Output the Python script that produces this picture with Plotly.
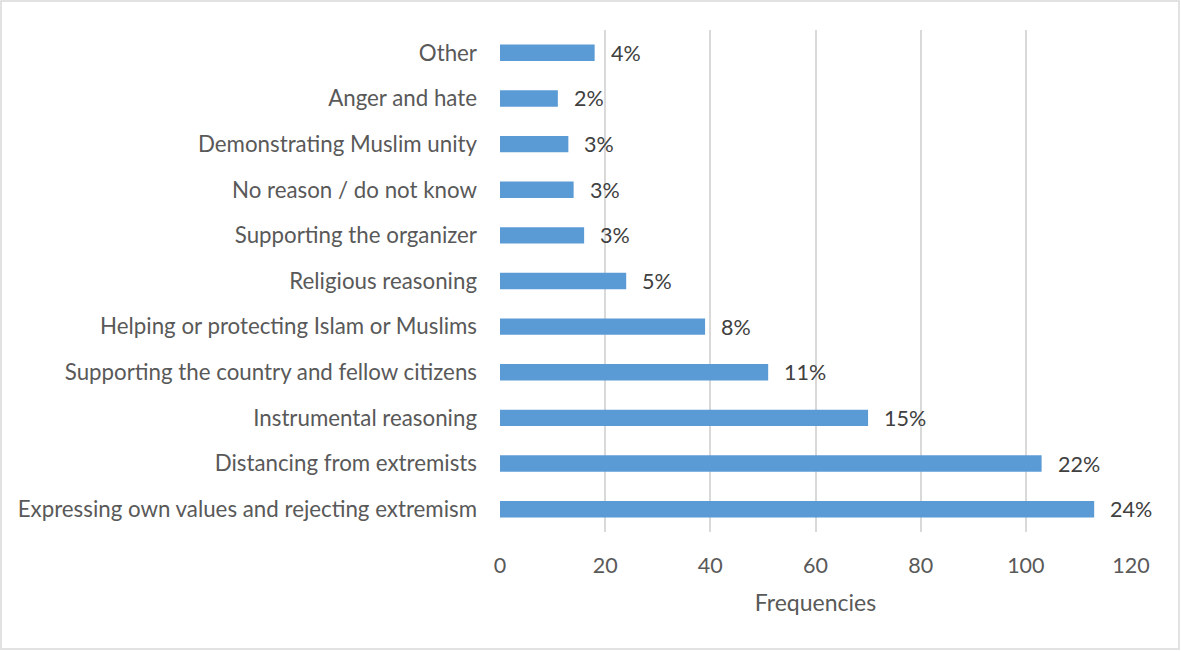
import plotly.graph_objects as go

categories = [
    "Expressing own values and rejecting extremism",
    "Distancing from extremists",
    "Instrumental reasoning",
    "Supporting the country and fellow citizens",
    "Helping or protecting Islam or Muslims",
    "Religious reasoning",
    "Supporting the organizer",
    "No reason / do not know",
    "Demonstrating Muslim unity",
    "Anger and hate",
    "Other",
]
frequencies = [113, 103, 70, 51, 39, 24, 16, 14, 13, 11, 18]
pct_labels = ["24%", "22%", "15%", "11%", "8%", "5%", "3%", "3%", "3%", "2%", "4%"]
x_ticks = [0, 20, 40, 60, 80, 100, 120]

W, H = 1181, 651
L, R, T, B = 500, 50, 30, 119
pw, ph = W - L - R, H - T - B

FONT = "Lato"
FS = 21.5

fig = go.Figure(go.Bar(
    y=categories, x=frequencies, orientation="h",
    marker=dict(color="#5b9bd5", line=dict(width=0)),
))

annotations = [
    dict(x=v, y=c, xref="x", yref="y", text=t, showarrow=False,
         xanchor="left", yanchor="middle", xshift=14,
         font=dict(family=FONT, size=FS, color="#404040"))
    for c, v, t in zip(categories, frequencies, pct_labels)
]

fig.update_layout(
    width=W, height=H,
    margin=dict(l=L, r=R, t=T, b=B),
    paper_bgcolor="white", plot_bgcolor="white",
    bargap=0.64,
    showlegend=False,
    font=dict(family=FONT, size=FS, color="#595959"),
    annotations=annotations,
    xaxis=dict(
        range=[0, 120], tickvals=x_ticks, showgrid=True, gridcolor="#d9d9d9", gridwidth=1.5,
        zeroline=False, showline=False, ticks="", ticklabelstandoff=18,
        tickfont=dict(family=FONT, size=FS, color="#595959"),
        title=dict(text="Frequencies", font=dict(family=FONT, size=23, color="#595959"), standoff=18),
    ),
    yaxis=dict(
        showgrid=False, zeroline=False, showline=False, ticks="",
        ticklabelstandoff=22,
        tickfont=dict(family=FONT, size=22.3, color="#595959"),
    ),
    shapes=[dict(
        type="rect", xref="paper", yref="paper",
        x0=(1 - L) / pw, x1=(W - 2 - L) / pw,
        y0=(T + ph - (H - 2)) / ph, y1=(T + ph - 1) / ph,
        line=dict(color="#d9d9d9", width=1.5), fillcolor="rgba(0,0,0,0)", layer="below",
    )],
)

fig.write_html("out.html")
